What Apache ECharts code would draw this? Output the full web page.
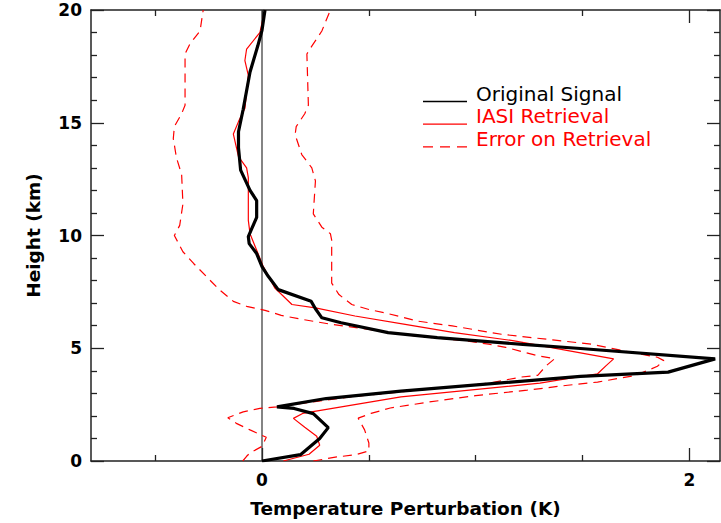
<!DOCTYPE html>
<html>
<head>
<meta charset="utf-8">
<script src="https://cdn.jsdelivr.net/npm/echarts@6/dist/echarts.min.js"></script>
<style>
  html, body { margin: 0; padding: 0; background: #fff; }
  #chart { width: 721px; height: 523px; }
</style>
</head>
<body>
<div id="chart"></div>
<script>
  // each point is [temperature perturbation (K), height (km)]
  var originalSignal = [[0.0,0.0],[0.18,0.28],[0.27,1.0],[0.31,1.48],[0.24,2.1],[0.15,2.33],[0.07,2.4],[0.30,2.77],
    [0.65,3.1],[1.49,3.75],[1.90,3.94],[2.12,4.53],[1.49,4.99],[1.22,5.17],[0.82,5.47],[0.59,5.69],[0.37,6.13],
    [0.28,6.35],[0.25,6.75],[0.23,7.08],[0.076,7.6],[0.03,8.18],[0.0,8.62],[-0.025,9.2],[-0.06,9.64],[-0.064,9.95],
    [-0.048,10.3],[-0.025,10.8],[-0.025,11.55],[-0.056,12.0],[-0.10,12.9],[-0.11,13.9],[-0.11,14.6],[-0.088,15.6],
    [-0.056,17.25],[-0.02,18.4],[0.0,19.1],[0.014,20.0]];
  var iasiRetrieval = [[0.10,0.0],[0.22,0.3],[0.27,0.7],[0.256,1.1],[0.2,1.5],[0.147,1.89],[0.19,2.11],[0.65,2.84],
    [1.30,3.45],[1.57,3.87],[1.61,4.23],[1.645,4.53],[1.18,5.33],[0.90,5.69],[0.67,6.06],[0.435,6.43],[0.25,6.79],
    [0.14,6.94],[0.06,7.67],[0.006,8.62],[-0.056,10.08],[-0.064,10.67],[-0.064,11.7],[-0.064,12.57],[-0.072,13.0],
    [-0.11,13.5],[-0.134,14.5],[-0.11,15.05],[-0.08,15.64],[-0.064,17.1],[-0.08,17.76],[-0.072,18.27],[-0.01,19.0],
    [0.014,20.0]];
  var errorUpper = [[0.24,0.0],[0.35,0.18],[0.44,0.28],[0.50,0.45],[0.50,0.8],[0.48,1.38],[0.45,1.9],[0.51,2.11],
    [0.6,2.35],[0.77,2.6],[1.0,2.9],[1.24,3.14],[1.43,3.36],[1.57,3.5],[1.75,3.8],[1.85,4.2],[1.88,4.45],[1.85,4.6],
    [1.69,4.89],[1.54,5.18],[1.36,5.37],[1.12,5.62],[0.89,5.99],[0.73,6.2],[0.575,6.57],[0.5,6.72],[0.42,6.94],
    [0.36,7.38],[0.326,7.89],[0.326,9.8],[0.32,10.08],[0.28,10.37],[0.24,10.96],[0.25,12.42],[0.233,13.0],
    [0.186,13.59],[0.155,14.47],[0.16,14.83],[0.2,15.4],[0.217,15.78],[0.21,18.05],[0.233,18.4],[0.28,19.07],
    [0.32,20.0]];
  var errorLower = [[-0.09,0.0],[-0.072,0.21],[-0.056,0.36],[0.0,0.65],[0.02,1.05],[-0.056,1.38],[-0.12,1.67],
    [-0.16,1.92],[-0.088,2.18],[-0.01,2.33],[0.07,2.4],[0.41,2.84],[1.06,3.45],[1.21,3.72],[1.29,3.8],[1.33,4.23],
    [1.37,4.54],[1.29,4.67],[1.14,5.04],[1.06,5.18],[0.95,5.33],[0.715,5.55],[0.326,6.06],[0.17,6.31],[0.09,6.46],
    [0.014,6.68],[-0.072,6.86],[-0.134,7.08],[-0.2,7.6],[-0.26,8.18],[-0.32,8.76],[-0.37,9.28],[-0.41,10.0],
    [-0.385,10.45],[-0.37,11.4],[-0.376,12.71],[-0.40,13.44],[-0.415,14.3],[-0.41,14.83],[-0.376,15.4],[-0.36,15.78],
    [-0.36,18.05],[-0.337,18.5],[-0.29,19.07],[-0.275,20.0]];
  var zeroLine = [[0, 0], [0, 20]];

  var xLabelTicks = [0, 2];
  var xMinorTicks = [-0.5, 0.5, 1, 1.5];
  var legendNames = ['Original Signal', 'IASI Retrieval', 'Error on Retrieval'];

  var font = 'DejaVu Sans';
  var axisColor = '#222';
  var red = '#ff0000';

  function xAxisOf(position, ticks, len, labels) {
    return {
      type: 'value', position: position, min: -0.8, max: 2.1427,
      axisLine: { show: len > 10, onZero: false, lineStyle: { color: axisColor, width: 1.5 } },
      axisTick: { show: true, inside: true, length: len, customValues: ticks, lineStyle: { color: axisColor, width: 1.3 } },
      axisLabel: labels ? { show: true, customValues: ticks, margin: 10, color: '#000', fontFamily: font, fontSize: 17, fontWeight: 'bold' } : { show: false },
      splitLine: { show: false },
      name: labels ? 'Temperature Perturbation (K)' : '',
      nameLocation: 'middle', nameGap: 38,
      nameTextStyle: { color: '#000', fontFamily: font, fontSize: 18.5, fontWeight: 'bold' }
    };
  }

  function yAxisOf(position, labels) {
    return {
      type: 'value', position: position, min: 0, max: 20, interval: 5,
      axisLine: { show: true, onZero: false, lineStyle: { color: axisColor, width: 1.5 } },
      axisTick: { show: true, inside: true, length: 13, lineStyle: { color: axisColor, width: 1.3 } },
      minorTick: { show: true, splitNumber: 5, length: 6, lineStyle: { color: axisColor, width: 1.3 } },
      axisLabel: labels ? { show: true, margin: 9, color: '#000', fontFamily: font, fontSize: 17, fontWeight: 'bold' } : { show: false },
      splitLine: { show: false },
      name: labels ? 'Height (km)' : '',
      nameLocation: 'middle', nameGap: 48,
      nameTextStyle: { color: '#000', fontFamily: font, fontSize: 18.5, fontWeight: 'bold' }
    };
  }

  var legendStyles = [
    { stroke: '#000', lineWidth: 1.5 },
    { stroke: red, lineWidth: 1.2 },
    { stroke: red, lineWidth: 1.2, lineDash: [10, 7] }
  ];
  var legendColors = ['#000', red, red];
  var graphics = [];
  legendNames.forEach(function (name, i) {
    var y = 101.5 + i * 22.7;
    graphics.push({ type: 'line', shape: { x1: 423, y1: y, x2: 467, y2: y }, style: legendStyles[i] });
    graphics.push({ type: 'text', left: 476, top: y - 18, style: { text: name, fill: legendColors[i], font: '20px "DejaVu Sans"' } });
  });

  var chart = echarts.init(document.getElementById('chart'), null, { renderer: 'svg' });
  chart.setOption({
    animation: false,
    backgroundColor: '#fff',
    grid: { left: 91, top: 10, width: 629, height: 456 },
    xAxis: [
      xAxisOf('bottom', xLabelTicks, 13, true),
      xAxisOf('bottom', xMinorTicks, 6, false),
      xAxisOf('top', xLabelTicks, 13, false),
      xAxisOf('top', xMinorTicks, 6, false)
    ],
    yAxis: [yAxisOf('left', true), yAxisOf('right', false)],
    graphic: graphics,
    series: [
      { type: 'line', data: zeroLine, symbol: 'none', lineStyle: { color: '#333', width: 1.2 } },
      { type: 'line', name: 'Error on Retrieval', data: errorUpper, symbol: 'none', lineStyle: { color: red, width: 1.2, type: [9, 6] } },
      { type: 'line', name: 'Error on Retrieval', data: errorLower, symbol: 'none', lineStyle: { color: red, width: 1.2, type: [9, 6] } },
      { type: 'line', name: 'IASI Retrieval', data: iasiRetrieval, symbol: 'none', lineStyle: { color: red, width: 1.2 } },
      { type: 'line', name: 'Original Signal', data: originalSignal, symbol: 'none', lineStyle: { color: '#000', width: 3.2 } }
    ]
  });
</script>
</body>
</html>
